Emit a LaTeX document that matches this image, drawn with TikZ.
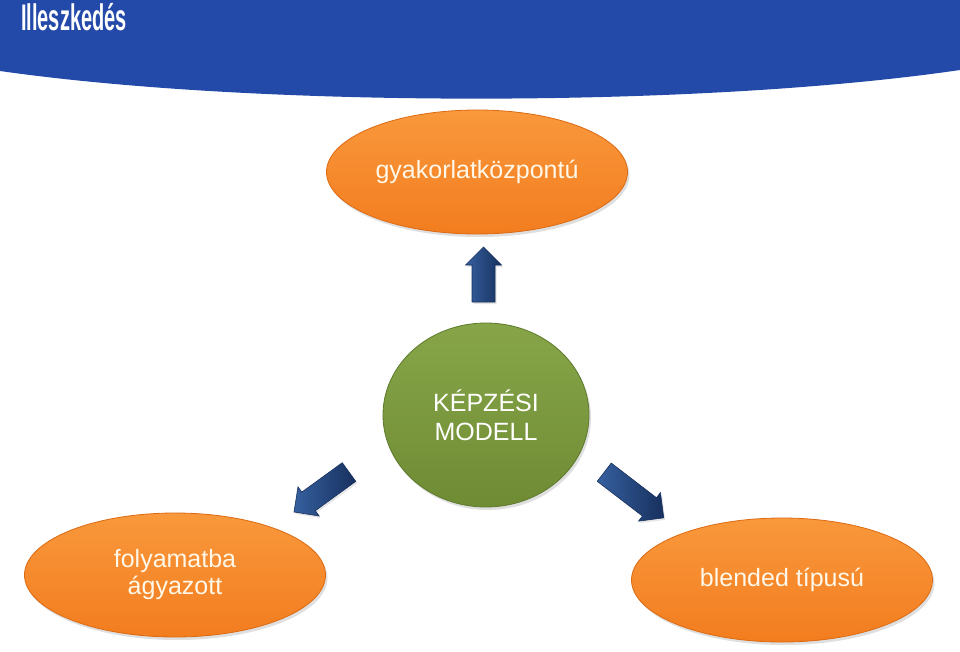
\documentclass[tikz,border=0pt]{standalone}
\usepackage{fontspec}
\setmainfont{Liberation Sans}
\usetikzlibrary{shapes.geometric,shadows}
\definecolor{banner}{HTML}{244AA9}
\definecolor{orangetop}{HTML}{F9983C}
\definecolor{orangebot}{HTML}{F27D1F}
\definecolor{orangeedge}{HTML}{DC6A12}
\definecolor{greentop}{HTML}{87A548}
\definecolor{greenbot}{HTML}{6F8C35}
\definecolor{greenedge}{HTML}{5E7A2C}
\definecolor{arrowtop}{HTML}{36609F}
\definecolor{arrowbot}{HTML}{17305E}
\definecolor{cream}{HTML}{FFF7E8}
\tikzset{
  oval/.style={ellipse, minimum width=301pt, minimum height=124pt, inner sep=0pt,
    top color=orangetop, bottom color=orangebot, draw=orangeedge, line width=0.8pt,
    text=cream, font=\fontsize{25}{27}\selectfont, align=center,
    drop shadow={opacity=0.25, shadow xshift=2pt, shadow yshift=-3pt}},
  core/.style={ellipse, minimum width=206pt, minimum height=184pt, inner sep=0pt,
    top color=greentop, bottom color=greenbot, draw=greenedge, line width=0.8pt,
    text=white, font=\fontsize{25}{29}\selectfont, align=center,
    drop shadow={opacity=0.25, shadow xshift=2pt, shadow yshift=-3pt}},
  blockarrow/.style={draw=arrowbot, line width=0.6pt, line join=miter,
    left color=arrowtop, right color=arrowbot,
    drop shadow={opacity=0.2, shadow xshift=1.5pt, shadow yshift=-2pt}}
}
% block arrow pointing along +x, centred at origin: #1 = total length
\newcommand{\blockarrowpath}[1]{%
  (-#1/2,-11.5) -- (#1/2-18,-11.5) -- (#1/2-18,-18) -- (#1/2,0) -- (#1/2-18,18) -- (#1/2-18,11.5) -- (-#1/2,11.5) -- cycle}
\begin{document}
\begin{tikzpicture}[x=1pt,y=-1pt]
\useasboundingbox (0,0) rectangle (960,651);
\fill[white] (0,0) rectangle (960,651);
% banner
\fill[banner] (0,0) -- (960,0) -- (960,70) .. controls (700,108) and (260,108) .. (0,71) -- cycle;
\node[anchor=base west, inner sep=0pt, text=white, font=\fontsize{37}{37}\selectfont\bfseries] (title) at (21,30) {\scalebox{0.54}[1]{Illeszkedés}};
% ellipses
\node[oval] (top) at (477,172) {gyakorlatközpontú};
\node[oval] (left) at (175,575) {folyamatba\\ ágyazott};
\node[oval] (right) at (782,580) {blended típusú};
\node[core] (center) at (486,415) {KÉPZÉSI\\MODELL};
% block arrows
\draw[blockarrow, shift={(483.5,274.5)}, rotate=90] \blockarrowpath{55};
\draw[blockarrow, shift={(321.5,492)}, rotate=216] \blockarrowpath{68};
\draw[blockarrow, shift={(634,495)}, rotate=-37.5] \blockarrowpath{75};
\end{tikzpicture}
\end{document}
